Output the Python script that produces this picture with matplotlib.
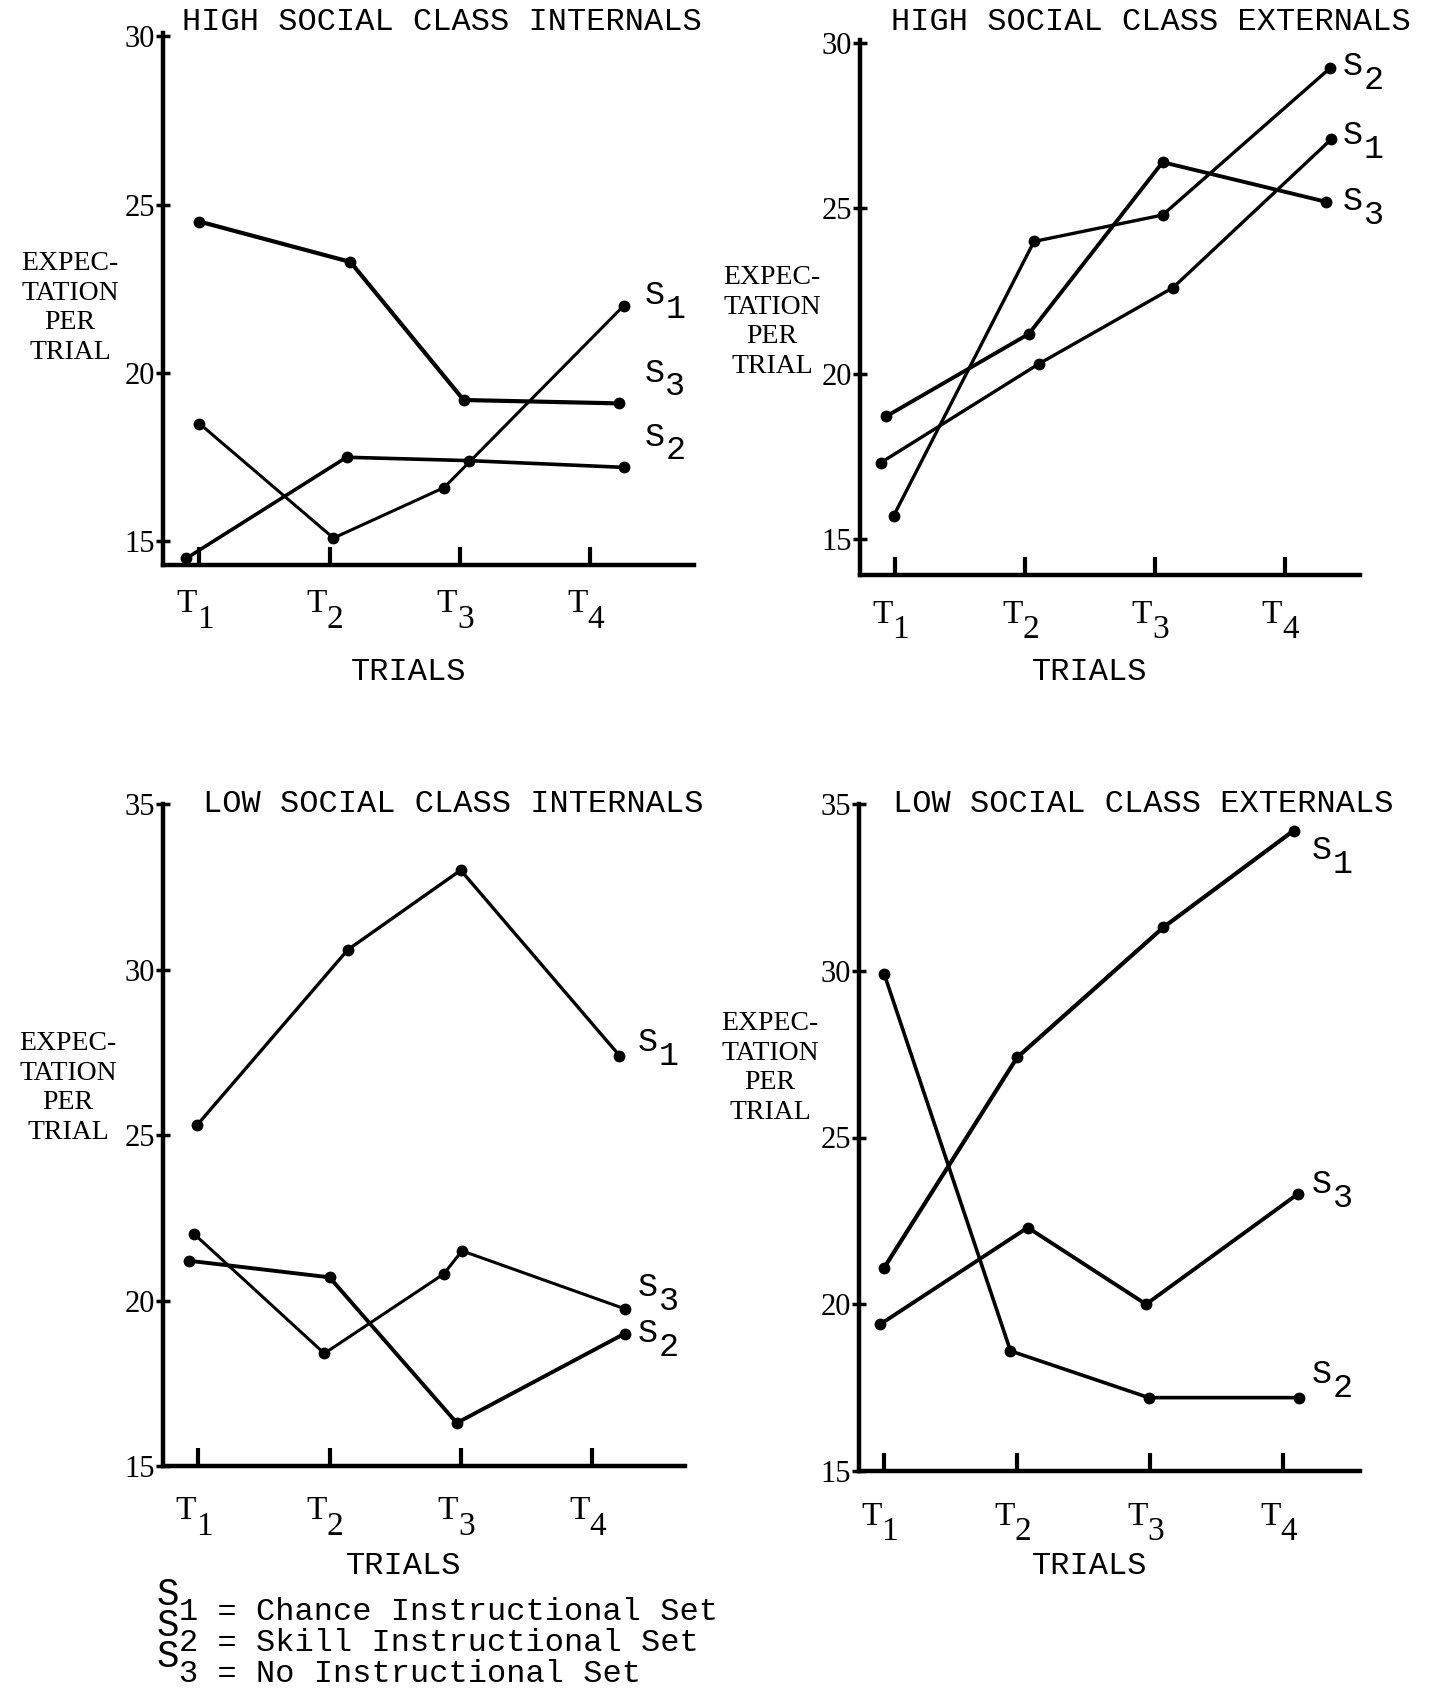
import matplotlib.pyplot as plt
from matplotlib import transforms

plt.rcParams['font.family'] = ['Liberation Mono', 'DejaVu Sans Mono']

W, H = 1431, 1689

# ---- DATA ----
trials = [1, 2, 3, 4]
trial_labels = ['1', '2', '3', '4']
y_ticks_high = [15, 20, 25, 30]
y_ticks_low = [15, 20, 25, 30, 35]

# High social class internals
hi_int_s1_x = [1.0, 2.03, 2.88, 4.26]
hi_int_s1_y = [18.5, 15.1, 16.6, 22.0]
hi_int_s2_x = [0.9, 2.13, 3.07, 4.26]
hi_int_s2_y = [14.5, 17.5, 17.4, 17.2]
hi_int_s3_x = [1.0, 2.16, 3.03, 4.22]
hi_int_s3_y = [24.5, 23.3, 19.2, 19.1]

# High social class externals
hi_ext_s1_x = [0.89, 2.11, 3.14, 4.36]
hi_ext_s1_y = [17.3, 20.3, 22.6, 27.1]
hi_ext_s2_x = [0.99, 2.07, 3.06, 4.35]
hi_ext_s2_y = [15.7, 24.0, 24.8, 29.25]
hi_ext_s3_x = [0.93, 2.03, 3.06, 4.32]
hi_ext_s3_y = [18.7, 21.2, 26.4, 25.2]

# Low social class internals
lo_int_s1_x = [0.99, 2.14, 3.0, 4.21]
lo_int_s1_y = [25.3, 30.6, 33.0, 27.4]
lo_int_s2_x = [0.93, 2.0, 2.97, 4.25]
lo_int_s2_y = [21.2, 20.7, 16.3, 19.0]
lo_int_s3_x = [0.97, 1.96, 2.87, 3.01, 4.25]
lo_int_s3_y = [22.0, 18.4, 20.8, 21.5, 19.75]

# Low social class externals
lo_ext_s1_x = [1.0, 2.0, 3.1, 4.08]
lo_ext_s1_y = [21.1, 27.4, 31.3, 34.2]
lo_ext_s2_x = [1.0, 1.95, 2.99, 4.12]
lo_ext_s2_y = [29.9, 18.6, 17.2, 17.2]
lo_ext_s3_x = [0.97, 2.08, 2.97, 4.11]
lo_ext_s3_y = [19.4, 22.3, 20.0, 23.3]

legend_lines = ['1 = Chance Instructional Set',
                '2 = Skill Instructional Set',
                '3 = No Instructional Set']

# ---- LAYOUT (pixel boxes: x0, y0, x1, y1) ----
panels = [
    dict(box=(163, 33, 694, 565), xlim=(0.72, 4.8), ylim=(14.3, 30.1),
         yt=y_ticks_high, title='HIGH SOCIAL CLASS INTERNALS', tpos=(182, 22),
         lab=(70, 308), trials_y=672,
         series=[(hi_int_s1_x, hi_int_s1_y, 2.2), (hi_int_s2_x, hi_int_s2_y, 2.6),
                 (hi_int_s3_x, hi_int_s3_y, 3.0)],
         tags=[('1', 4.42, 22.3), ('3', 4.42, 20.0), ('2', 4.42, 18.1)]),
    dict(box=(860, 40, 1360, 575), xlim=(0.73, 4.58), ylim=(13.9, 30.1),
         yt=y_ticks_high, title='HIGH SOCIAL CLASS EXTERNALS', tpos=(891, 22),
         lab=(772, 322), trials_y=672,
         series=[(hi_ext_s1_x, hi_ext_s1_y, 2.4), (hi_ext_s2_x, hi_ext_s2_y, 2.4),
                 (hi_ext_s3_x, hi_ext_s3_y, 2.8)],
         tags=[('2', 4.45, 29.3), ('1', 4.45, 27.2), ('3', 4.45, 25.2)]),
    dict(box=(163, 804, 685, 1466), xlim=(0.73, 4.71), ylim=(15.1, 35.0),
         yt=y_ticks_low, title='LOW SOCIAL CLASS INTERNALS', tpos=(203, 804),
         lab=(68, 1088), trials_y=1566,
         series=[(lo_int_s1_x, lo_int_s1_y, 2.4), (lo_int_s2_x, lo_int_s2_y, 2.8),
                 (lo_int_s3_x, lo_int_s3_y, 2.2)],
         tags=[('1', 4.35, 27.8), ('3', 4.35, 20.4), ('2', 4.35, 19.0)]),
    dict(box=(859, 804, 1360, 1471), xlim=(0.81, 4.58), ylim=(15.2, 35.0),
         yt=y_ticks_low, title='LOW SOCIAL CLASS EXTERNALS', tpos=(893, 804),
         lab=(770, 1068), trials_y=1566,
         series=[(lo_ext_s1_x, lo_ext_s1_y, 3.0), (lo_ext_s2_x, lo_ext_s2_y, 2.6),
                 (lo_ext_s3_x, lo_ext_s3_y, 2.8)],
         tags=[('1', 4.22, 33.6), ('3', 4.22, 23.6), ('2', 4.22, 17.9)]),
]


def fx(x):
    return x / W


def fy(y):
    return 1 - y / H


fig = plt.figure(figsize=(W / 100, H / 100), dpi=100)
fig.patch.set_facecolor('white')

for p in panels:
    x0, y0, x1, y1 = p['box']
    ax = fig.add_axes([fx(x0), fy(y1), (x1 - x0) / W, (y1 - y0) / H])
    ax.set_facecolor('none')
    for xs, ys, lw in p['series']:
        ax.plot(xs, ys, color='black', lw=lw, marker='o', ms=7.5,
                solid_capstyle='round', solid_joinstyle='round', clip_on=False)
    ax.set_xlim(*p['xlim'])
    ax.set_ylim(*p['ylim'])
    for s in ['top', 'right']:
        ax.spines[s].set_visible(False)
    for s in ['left', 'bottom']:
        ax.spines[s].set_linewidth(3.2)
        ax.spines[s].set_color('black')

    ax.set_yticks(p['yt'])
    ax.set_yticklabels([str(v) for v in p['yt']], family='Liberation Serif',
                       fontsize=22)
    ax.tick_params(axis='y', direction='inout', length=10, width=2.5, pad=1)
    ax.set_xticks(trials)
    ax.set_xticklabels([])
    ax.tick_params(axis='x', direction='in', length=13, width=3)

    # trial labels T1..T4 with typewriter-style subscripts
    tr = transforms.blended_transform_factory(ax.transData, ax.transAxes)
    for t, lab in zip(trials, trial_labels):
        ax.text(t - 0.02, -0.045, 'T', transform=tr, ha='right', va='top',
                fontsize=24, family='Liberation Serif')
        ax.annotate(lab, xy=(t - 0.02, -0.045), xycoords=tr, xytext=(0, -11),
                    textcoords='offset points', ha='left', va='top',
                    fontsize=24, family='Liberation Serif')

    # series tags S1, S2, S3 at the line ends
    for lab, tx, ty in p['tags']:
        ax.text(tx, ty, 'S', ha='left', va='center', fontsize=24)
        ax.annotate(lab, xy=(tx, ty), xytext=(15, -10), textcoords='offset points',
                    ha='left', va='center', fontsize=24)

    fig.text(fx(p['tpos'][0]), fy(p['tpos'][1]), p['title'], ha='left',
             va='center', fontsize=23)
    fig.text(fx(p['lab'][0]), fy(p['lab'][1]), 'EXPEC-\nTATION\nPER\nTRIAL',
             ha='center', va='center', fontsize=20, family='Liberation Serif',
             linespacing=1.25)
    fig.text(fx((x0 + x1) / 2 - 20), fy(p['trials_y']), 'TRIALS', ha='center',
             va='center', fontsize=23)

# legend of instructional sets: stacked S column, then the descriptions
fig.text(fx(157), fy(1626), '\n'.join('S' for _ in legend_lines), ha='left',
         va='center', fontsize=27, linespacing=0.83)
for i, line in enumerate(legend_lines):
    base = 1620 + i * 31
    fig.text(fx(179), fy(base), line, ha='left', va='baseline', fontsize=23)

fig.savefig('out.png', dpi=100, facecolor='white')
